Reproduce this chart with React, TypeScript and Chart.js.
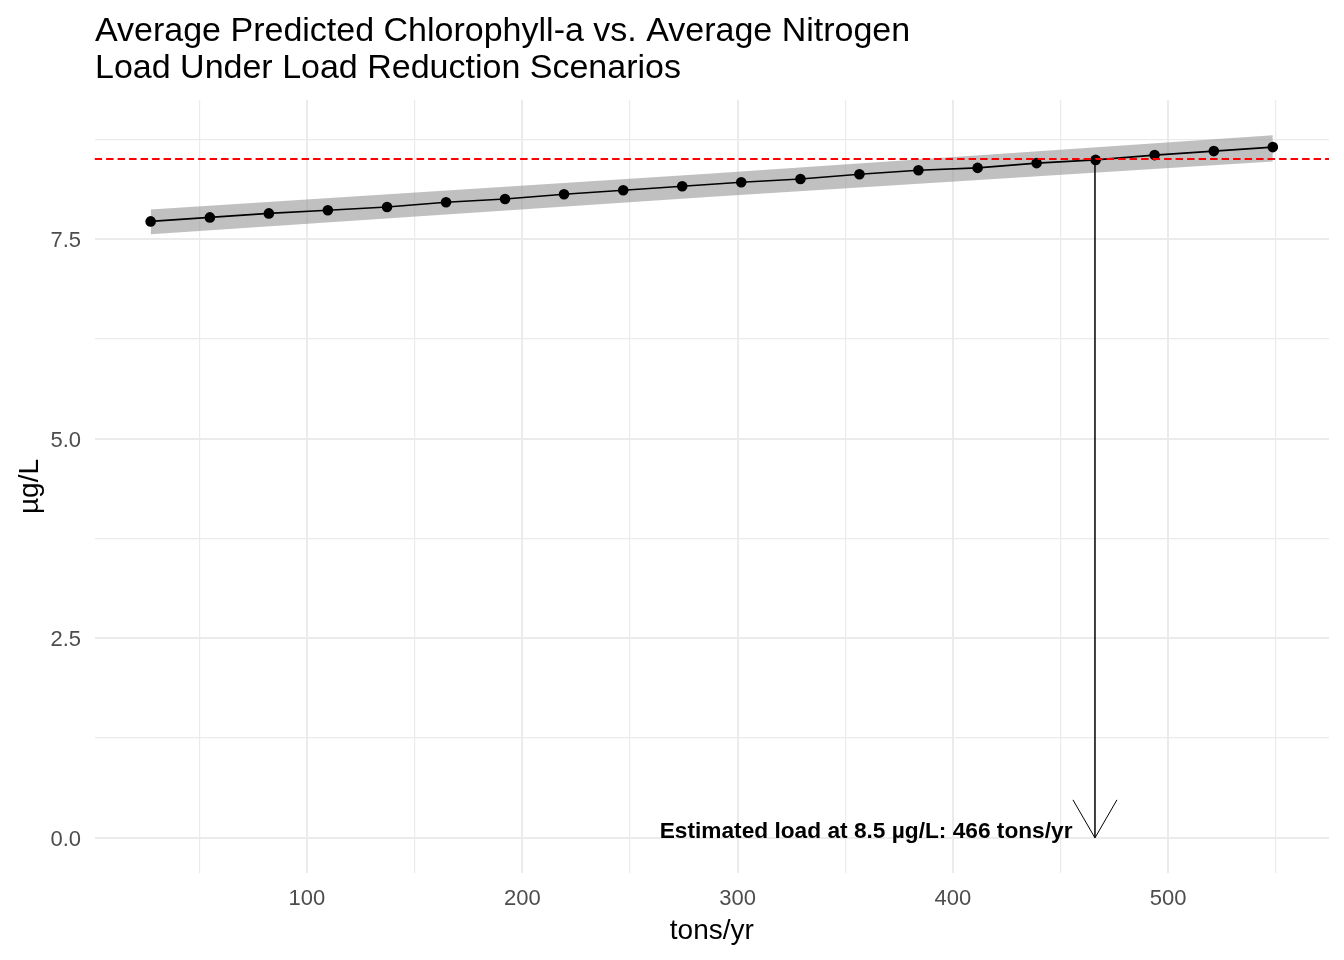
import React, { useEffect, useRef } from "react";
import { Chart, registerables } from "chart.js";

Chart.register(...registerables);

// ---- Data ----
const nitrogenLoad = [27.4, 54.9, 82.3, 109.7, 137.2, 164.6, 192.0, 219.4, 246.9, 274.3, 301.7, 329.2, 356.6, 384.0, 411.5, 438.9, 466.3, 493.7, 521.2, 548.6];
const chlorophyll = [7.72, 7.77, 7.82, 7.86, 7.9, 7.96, 8.0, 8.06, 8.11, 8.16, 8.21, 8.25, 8.31, 8.36, 8.39, 8.45, 8.49, 8.55, 8.6, 8.65];

const ribbonLoad = [27.4, 288.0, 548.6];
const ribbonLower = [7.56, 8.03, 8.47];
const ribbonUpper = [7.87, 8.32, 8.8];

const targetChl = 8.5;
const estimatedLoad = 466;

const xMajorTicks = [100, 200, 300, 400, 500];
const xMinorTicks = [50, 150, 250, 350, 450, 550];
const yMajorTicks = [0, 2.5, 5, 7.5];
const yMinorTicks = [1.25, 3.75, 6.25, 8.75];

const titleLines = [
  "Average Predicted Chlorophyll-a vs. Average Nitrogen",
  "Load Under Load Reduction Scenarios",
];
const xTitle = "tons/yr";
const yTitle = "µg/L";
const annotationText = `Estimated load at ${targetChl} µg/L: ${estimatedLoad} tons/yr`;

const FONT = '"Liberation Sans", Arial, Helvetica, sans-serif';

const overlayPlugin = {
  id: "overlay",
  afterDatasetsDraw(chart: any) {
    const { ctx, chartArea } = chart;
    const xs = chart.scales.x;
    const ys = chart.scales.y;
    // dashed reference line
    const yT = ys.getPixelForValue(targetChl);
    ctx.save();
    ctx.beginPath();
    ctx.rect(chartArea.left, chartArea.top, chartArea.right - chartArea.left, chartArea.bottom - chartArea.top);
    ctx.clip();
    ctx.beginPath();
    ctx.setLineDash([7.5, 4]);
    ctx.lineWidth = 2;
    ctx.strokeStyle = "#FF0000";
    ctx.moveTo(chartArea.left, yT);
    ctx.lineTo(chartArea.right, yT);
    ctx.stroke();
    ctx.restore();

    // arrow
    const xA = xs.getPixelForValue(estimatedLoad);
    const y0 = ys.getPixelForValue(0);
    ctx.save();
    ctx.strokeStyle = "#000";
    ctx.lineWidth = 1.5;
    ctx.beginPath();
    ctx.moveTo(xA, yT);
    ctx.lineTo(xA, y0);
    ctx.stroke();
    ctx.lineWidth = 1;
    ctx.beginPath();
    ctx.moveTo(xA - 22, y0 - 38);
    ctx.lineTo(xA, y0);
    ctx.lineTo(xA + 22, y0 - 38);
    ctx.stroke();
    // annotation text
    ctx.fillStyle = "#000";
    ctx.font = `bold 22.7px ${FONT}`;
    ctx.textAlign = "right";
    ctx.textBaseline = "alphabetic";
    ctx.fillText(annotationText, xA - 22.5, y0);
    ctx.restore();
  },
  afterDraw(chart: any) {
    const { ctx } = chart;
    ctx.save();
    ctx.fillStyle = "#000";
    ctx.font = `34px ${FONT}`;
    ctx.textAlign = "left";
    ctx.textBaseline = "alphabetic";
    ctx.fillText(titleLines[0], 95, 40.7);
    ctx.fillText(titleLines[1], 95, 77.7);
    ctx.restore();
  },
};

export default function App() {
  const canvasRef = useRef<HTMLCanvasElement | null>(null);

  useEffect(() => {
    document.body.style.margin = "0";
    const canvas = canvasRef.current;
    if (!canvas) return;
    const gridColor = () => "#EBEBEB";
    const chart = new Chart(canvas, {
      type: "line",
      data: {
        datasets: [
          {
            label: "fit",
            data: nitrogenLoad.map((x, i) => ({ x, y: chlorophyll[i] })),
            borderColor: "#000",
            backgroundColor: "#000",
            borderWidth: 1.6,
            pointRadius: 5.3,
            pointHoverRadius: 5.3,
            pointBackgroundColor: "#000",
            pointBorderWidth: 0,
            tension: 0,
            fill: false,
            order: 1,
          },
          {
            label: "lower",
            data: ribbonLoad.map((x, i) => ({ x, y: ribbonLower[i] })),
            borderWidth: 0,
            pointRadius: 0,
            fill: false,
            order: 3,
          },
          {
            label: "upper",
            data: ribbonLoad.map((x, i) => ({ x, y: ribbonUpper[i] })),
            borderWidth: 0,
            pointRadius: 0,
            fill: "-1",
            backgroundColor: "rgba(153,153,153,0.62)",
            order: 2,
          },
        ],
      },
      options: {
        responsive: false,
        animation: false,
        devicePixelRatio: 1,
        layout: { padding: { top: 100, right: 15, bottom: 0, left: 0 } },
        plugins: {
          legend: { display: false },
          tooltip: { enabled: false },
          title: { display: false },
        },
        events: [],
        scales: {
          x: {
            type: "linear",
            min: 1.37,
            max: 574.7,
            afterBuildTicks: (scale: any) => {
              scale.ticks = [...xMinorTicks, ...xMajorTicks].sort((a, b) => a - b).map((v) => ({ value: v }));
            },
            afterFit: (scale: any) => {
              scale.height = 87;
            },
            border: { display: false },
            grid: {
              drawTicks: false,
              color: gridColor,
              lineWidth: (c: any) => (c.tick && xMajorTicks.includes(c.tick.value) ? 2 : 1.2),
            },
            ticks: {
              autoSkip: false,
              maxRotation: 0,
              padding: 13,
              color: "#4D4D4D",
              font: { family: FONT, size: 22 },
              callback: (v: any) => (xMajorTicks.includes(Number(v)) ? String(v) : ""),
            },
            title: {
              display: true,
              text: xTitle,
              color: "#000",
              font: { family: FONT, size: 28 },
              padding: { top: 0, bottom: 11.5 },
            },
          },
          y: {
            type: "linear",
            min: -0.44,
            max: 9.24,
            afterBuildTicks: (scale: any) => {
              scale.ticks = [...yMinorTicks, ...yMajorTicks].sort((a, b) => a - b).map((v) => ({ value: v }));
            },
            afterFit: (scale: any) => {
              scale.width = 94.6;
            },
            border: { display: false },
            grid: {
              drawTicks: false,
              color: gridColor,
              lineWidth: (c: any) => (c.tick && yMajorTicks.includes(c.tick.value) ? 2 : 1.2),
            },
            ticks: {
              autoSkip: false,
              padding: 13.5,
              labelOffset: 2,
              color: "#4D4D4D",
              font: { family: FONT, size: 22 },
              callback: (v: any) => (yMajorTicks.includes(Number(v)) ? Number(v).toFixed(1) : ""),
            },
            title: {
              display: true,
              text: yTitle,
              color: "#000",
              font: { family: FONT, size: 28 },
              padding: { top: 13.5, bottom: 0 },
            },
          },
        },
      },
      plugins: [overlayPlugin],
    } as any);
    return () => chart.destroy();
  }, []);

  return (
    <div style={{ position: "absolute", left: 0, top: 0, width: 1344, height: 960, background: "#fff" }}>
      <canvas ref={canvasRef} width={1344} height={960} style={{ width: 1344, height: 960, display: "block" }} />
    </div>
  );
}
